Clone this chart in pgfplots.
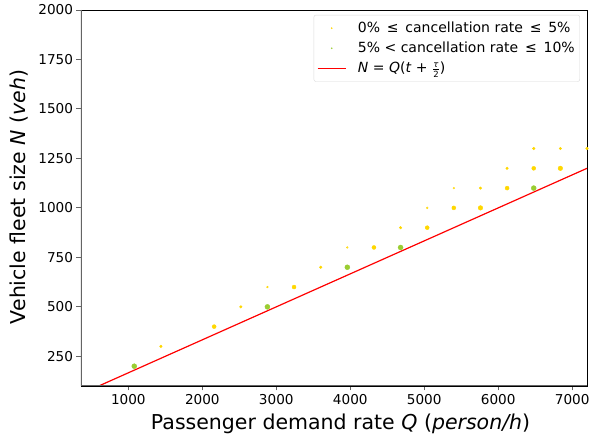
\documentclass[border=0pt]{standalone}
\usepackage{fontspec}
\setmainfont{DejaVu Sans}
\usepackage{pgfplots}
\pgfplotsset{compat=1.18}
\definecolor{gold}{RGB}{255,215,0}
\definecolor{ygreen}{RGB}{154,205,50}
\definecolor{spine}{RGB}{100,100,100}
\definecolor{lred}{RGB}{255,0,0}
\pgfplotsset{
  dotleg/.style={legend image code/.code={\path[draw=none, fill=none] (0cm,0cm) -- (1.35cm,0cm); \fill[##1, draw=none] (0.5cm,0cm) circle (0.9pt);}},
  lineleg/.style={legend image code/.code={\path[draw=none, fill=none] (0cm,0cm) -- (1.35cm,0cm); \draw[##1] (0cm,0cm) -- (1cm,0cm);}},
}
\newcommand{\lf}{\fontsize{14}{16}\selectfont}
\begin{document}
\begin{tikzpicture}
\useasboundingbox (-81pt,-57pt) rectangle (508pt,386pt);
\begin{axis}[
  at={(0,0)}, anchor=south west,
  scale only axis, width=506pt, height=376pt,
  xmin=360, xmax=7200, ymin=100, ymax=2000,
  xtick={1000,2000,3000,4000,5000,6000,7000},
  ytick={250,500,750,1000,1250,1500,1750,2000},
  scaled ticks=false,
  /pgf/number format/assume math mode=true,
  /pgf/number format/set thousands separator={},
  tick label style={font=\fontsize{13.6}{15}\selectfont},
  tick align=outside, xtick pos=bottom, ytick pos=left,
  major tick length=4.5pt,
  every tick/.style={spine, line width=0.9pt},
  xlabel={Passenger demand rate \textit{Q} (\textit{person/h})},
  ylabel={Vehicle fleet size \textit{N} (\textit{veh})},
  label style={font=\fontsize{20.5}{24}\selectfont},
  xlabel style={at={(axis description cs:0.513,-0.101)}, anchor=center},
  ylabel style={at={(axis description cs:-0.1225,0.503)}, anchor=center, rotate=0},
  legend cell align=left,
  legend style={at={(0.986,0.987)}, anchor=north east, draw=black!15, rounded corners=2pt,
    row sep=4pt, inner ysep=5pt},
]
\addplot[only marks, gold, mark=*, mark size=1.3pt, mark options={draw=none, fill=gold}, dotleg]
  coordinates {(1440,300) (2520,500) (3600,700) (4680,900) (5760,1100) (6120,1200) (6480,1300) (6840,1300) (7200,1300)};
\addlegendentry{\lf 0\% \,≤\, cancellation rate \,≤\, 5\%}
\addplot[only marks, ygreen, mark=*, mark size=2.5pt, mark options={draw=none, fill=ygreen}, dotleg]
  coordinates {(1080,200) (2880,500) (3960,700) (4680,800) (6480,1100)};
\addlegendentry{\lf 5\% < cancellation rate \,≤\, 10\%}
\addplot[lred, line width=1.2pt, no marks, lineleg]
  coordinates {(360,60) (7200,1200)};
\addlegendentry{\lf \textit{N} = \textit{Q}(\textit{t} + $\frac{\hbox{\fontsize{8.5}{9}\selectfont\itshape τ}}{\hbox{\fontsize{8.5}{9}\selectfont 2}}$)}
% yellow, medium
\addplot[forget plot, only marks, gold, mark=*, mark size=2.0pt, mark options={draw=none, fill=gold}]
  coordinates {(2160,400) (3240,600) (4320,800) (5040,900) (5400,1000) (6120,1100) (6480,1200)};
% yellow, large
\addplot[forget plot, only marks, gold, mark=*, mark size=2.3pt, mark options={draw=none, fill=gold}]
  coordinates {(5760,1000) (6840,1200)};
% yellow, tiny
\addplot[forget plot, only marks, gold, mark=*, mark size=0.9pt, mark options={draw=none, fill=gold, fill opacity=0.6}]
  coordinates {(2880,600) (3960,800) (5040,1000) (5400,1100)};
\draw[black, line width=0.8pt] (rel axis cs:0,1) -- (rel axis cs:1,1) -- (rel axis cs:1,0);
\draw[spine, line width=1.4pt] (rel axis cs:0,1) -- (rel axis cs:0,0) -- (rel axis cs:1,0);
\end{axis}
\end{tikzpicture}
\end{document}
